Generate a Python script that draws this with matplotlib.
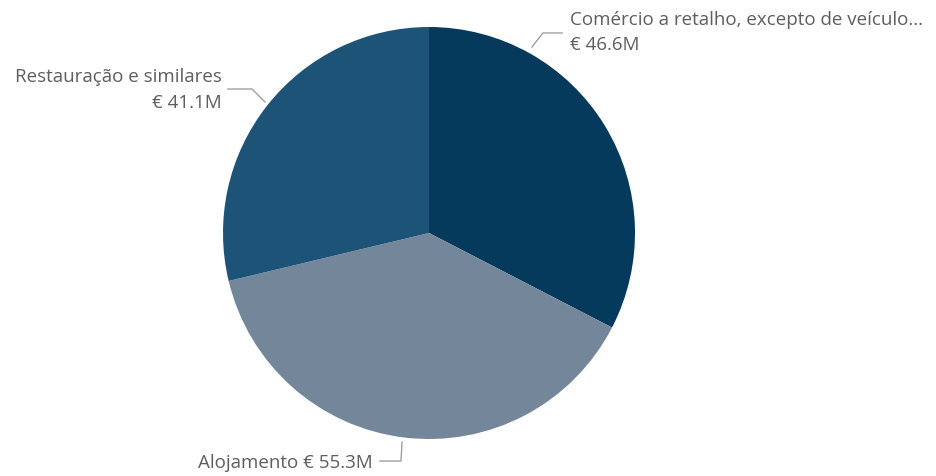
import matplotlib.pyplot as plt

# Valores (milhões de euros)
categories = ["Comércio a retalho, excepto de veículo...", "Alojamento", "Restauração e similares"]
values = [46.6, 55.3, 41.1]
colors = ["#053a5c", "#74879a", "#1e5378"]

plt.rcParams['font.family'] = ['Open Sans', 'DejaVu Sans']
TXT = "#605e5c"
LINE = "#a0a0a0"

fig = plt.figure(figsize=(9.36, 4.76), dpi=100)
W, H = 936, 476
cx, cy, r = 429, 233, 206
ax = fig.add_axes([(cx - r) / W, (H - cy - r) / H, 2 * r / W, 2 * r / H])

ax.pie(values, colors=colors, startangle=90, counterclock=False, radius=1,
       wedgeprops=dict(linewidth=0))
ax.set_xlim(-1, 1)
ax.set_ylim(-1, 1)
ax.set_aspect('equal')
ax.axis('off')

fs = 13.5
# leader lines (data coords, pie radius = 1)
leaders = [
    [(0.50, 0.903), (0.553, 0.971), (0.646, 0.971)],
    [(-0.131, -1.015), (-0.136, -1.107), (-0.238, -1.107)],
    [(-0.796, 0.636), (-0.859, 0.699), (-0.976, 0.699)],
]
for pts in leaders:
    xs, ys = zip(*pts)
    ax.plot(xs, ys, color=LINE, lw=1, clip_on=False)

# labels
ax.text(0.684, 1.034, categories[0], ha='left', va='center', fontsize=fs, color=TXT, clip_on=False)
ax.text(0.684, 0.913, f"€ {values[0]}M", ha='left', va='center', fontsize=fs, color=TXT, clip_on=False)

ax.text(-0.272, -1.117, f"{categories[1]} € {values[1]}M", ha='right', va='center', fontsize=fs,
        color=TXT, clip_on=False)

ax.text(-1.005, 0.757, categories[2], ha='right', va='center', fontsize=fs, color=TXT, clip_on=False)
ax.text(-1.005, 0.631, f"€ {values[2]}M", ha='right', va='center', fontsize=fs, color=TXT, clip_on=False)

fig.savefig("out.png", dpi=100, facecolor="white")
